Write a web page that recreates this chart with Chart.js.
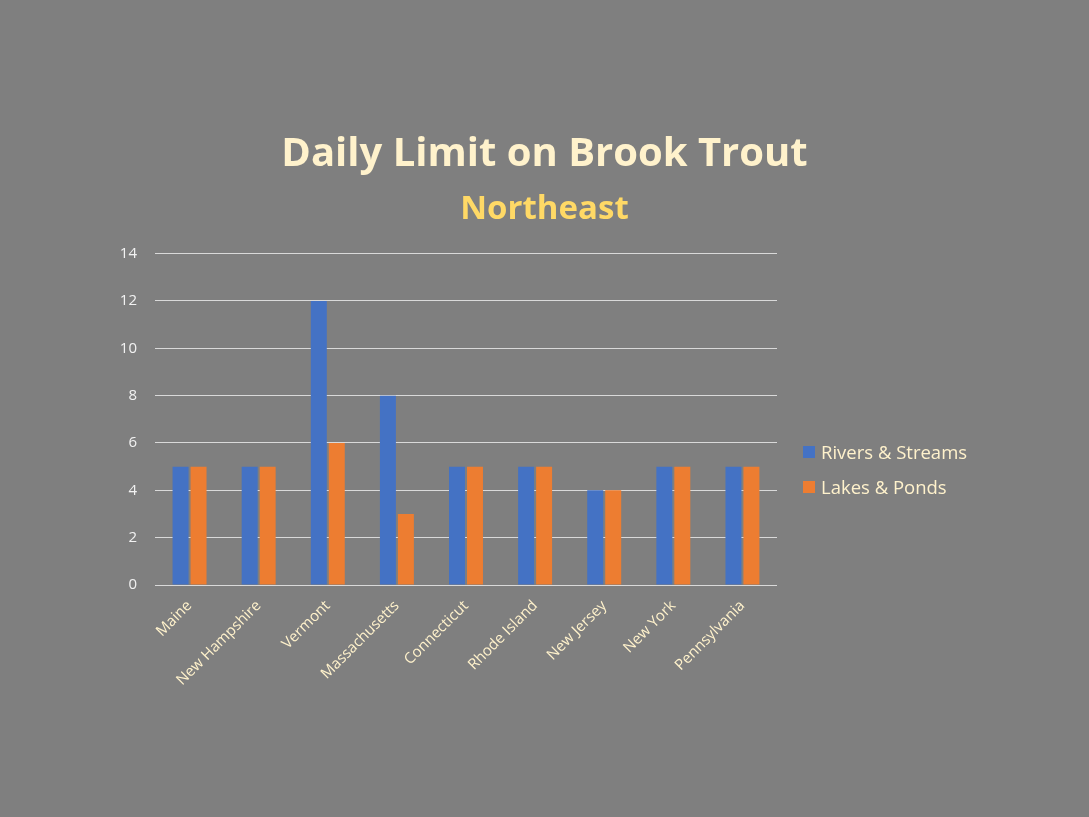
<!DOCTYPE html>
<html>
<head>
<meta charset="utf-8">
<script src="https://cdn.jsdelivr.net/npm/chart.js@4"></script>
<style>
  html, body { margin:0; padding:0; background:#7F7F7F; }
  #wrap { position:relative; width:1089px; height:817px; }
  canvas { position:absolute; left:0; top:0; }
  #legend { position:absolute; left:803px; top:434px; font-family:"Open Sans", sans-serif; font-size:18.5px; color:#FFF2CC; }
  #legend div { height:35px; display:flex; align-items:center; }
  #legend span.box { display:inline-block; width:12px; height:12px; margin-right:6px; }
</style>
</head>
<body>
<div id="wrap">
<canvas id="c" width="1089" height="817"></canvas>
<div id="legend"></div>
</div>
<script>
const categories = ["Maine","New Hampshire","Vermont","Massachusetts","Connecticut","Rhode Island","New Jersey","New York","Pennsylvania"];
const riversStreams = [5,5,12,8,5,5,4,5,5];
const lakesPonds = [5,5,6,3,5,5,4,5,5];
const seriesNames = ["Rivers & Streams","Lakes & Ponds"];
const seriesColors = ["#4472C4","#ED7D31"];
const yTicks = [0,2,4,6,8,10,12,14];

const font = "'Open Sans', sans-serif";
const chart = new Chart(document.getElementById('c'), {
  type: 'bar',
  data: {
    labels: categories,
    datasets: [
      { label: seriesNames[0], data: riversStreams, backgroundColor: seriesColors[0] },
      { label: seriesNames[1], data: lakesPonds, backgroundColor: seriesColors[1] }
    ]
  },
  options: {
    responsive: false,
    animation: false,
    devicePixelRatio: 1,
    categoryPercentage: 0.52,
    barPercentage: 0.89,
    layout: { padding: { left: 0, right: 0, top: 0, bottom: 0 } },
    plugins: {
      legend: { display: false },
      tooltip: { enabled: false },
      title: {
        display: true,
        text: 'Daily Limit on Brook Trout',
        color: '#FFF2CC',
        font: { family: font, size: 40, weight: 'bold', lineHeight: 1.2 },
        padding: { top: 131, bottom: 11 }
      },
      subtitle: {
        display: true,
        text: 'Northeast',
        color: '#FFD966',
        font: { family: font, size: 33, weight: 'bold', lineHeight: 1.2 },
        padding: { top: 0, bottom: 24 }
      }
    },
    scales: {
      x: {
        grid: { display: false },
        border: { display: false },
        ticks: {
          color: '#FFF2CC',
          font: { family: font, size: 15 },
          maxRotation: 45, minRotation: 45, autoSkip: false, padding: 4
        },
        afterFit: (s) => { s.height = 232; }
      },
      y: {
        min: 0, max: 14,
        afterBuildTicks: (s) => { s.ticks = yTicks.map(v => ({ value: v })); },
        grid: { color: '#D9D9D9', lineWidth: 1, drawTicks: false },
        border: { display: false },
        ticks: { color: '#F2F2F2', font: { family: font, size: 15 }, padding: 18 },
        afterFit: (s) => { s.width = 155; }
      },
      yRight: {
        position: 'right',
        display: true,
        min: 0, max: 14,
        grid: { display: false, drawTicks: false },
        border: { display: false },
        ticks: { display: false },
        afterFit: (s) => { s.width = 312; }
      }
    }
  }
});

const lg = document.getElementById('legend');
seriesNames.forEach((n, i) => {
  const d = document.createElement('div');
  const b = document.createElement('span');
  b.className = 'box'; b.style.background = seriesColors[i];
  d.appendChild(b);
  d.appendChild(document.createTextNode(n));
  lg.appendChild(d);
});
</script>
</body>
</html>
